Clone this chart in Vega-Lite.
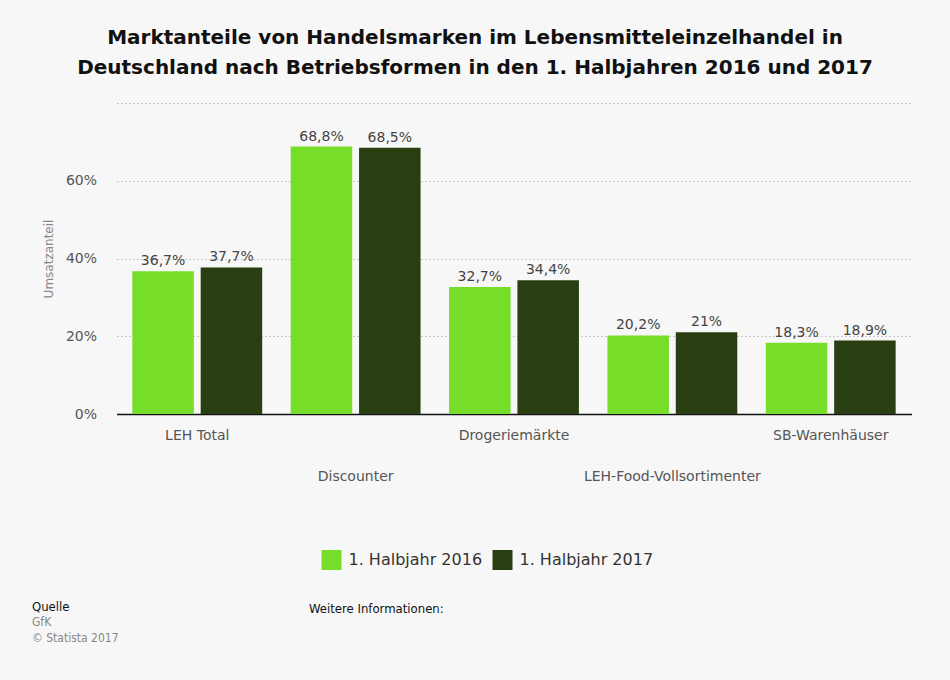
{
  "$schema": "https://vega.github.io/schema/vega-lite/v6.json",
  "background": "#f7f7f7",
  "padding": {"left": 32, "top": 28, "right": 20, "bottom": 30},
  "config": {
    "font": "DejaVu Sans",
    "view": {"stroke": null},
    "locale": {"number": {"decimal": ",", "thousands": ".", "grouping": [3], "currency": ["", " €"]}}
  },
  "title": {
    "text": ["Marktanteile von Handelsmarken im Lebensmitteleinzelhandel in", "Deutschland nach Betriebsformen in den 1. Halbjahren 2016 und 2017"],
    "fontSize": 20, "fontWeight": "bold", "color": "#111111", "lineHeight": 30, "anchor": "middle", "offset": 25, "dx": -39
  },
  "resolve": {"scale": {"color": "independent"}, "legend": {"color": "independent"}},
  "center": true,
  "spacing": 31,
  "vconcat": [
    {
      "width": 795,
      "height": 311,
      "data": {"values": [
        {"Betriebsform": "LEH Total", "Zeitraum": "1. Halbjahr 2016", "Anteil": 0.367},
        {"Betriebsform": "LEH Total", "Zeitraum": "1. Halbjahr 2017", "Anteil": 0.377},
        {"Betriebsform": "Discounter", "Zeitraum": "1. Halbjahr 2016", "Anteil": 0.688},
        {"Betriebsform": "Discounter", "Zeitraum": "1. Halbjahr 2017", "Anteil": 0.685},
        {"Betriebsform": "Drogeriemärkte", "Zeitraum": "1. Halbjahr 2016", "Anteil": 0.327},
        {"Betriebsform": "Drogeriemärkte", "Zeitraum": "1. Halbjahr 2017", "Anteil": 0.344},
        {"Betriebsform": "LEH-Food-Vollsortimenter", "Zeitraum": "1. Halbjahr 2016", "Anteil": 0.202},
        {"Betriebsform": "LEH-Food-Vollsortimenter", "Zeitraum": "1. Halbjahr 2017", "Anteil": 0.21},
        {"Betriebsform": "SB-Warenhäuser", "Zeitraum": "1. Halbjahr 2016", "Anteil": 0.183},
        {"Betriebsform": "SB-Warenhäuser", "Zeitraum": "1. Halbjahr 2017", "Anteil": 0.189}
      ]},
      "encoding": {
        "x": {
          "field": "Betriebsform", "type": "nominal", "sort": null,
          "scale": {"paddingInner": 0.18, "paddingOuter": 0.1},
          "axis": {
            "title": null, "labelAngle": 0, "labelFontSize": 14, "labelColor": "#555555",
            "labelPadding": {"condition": {"test": "indexof(['Discounter','LEH-Food-Vollsortimenter'], datum.value) >= 0", "value": 55}, "value": 14},
            "ticks": false, "domain": true, "domainColor": "#111111", "domainWidth": 1.5
          }
        },
        "xOffset": {"field": "Zeitraum", "type": "nominal", "scale": {"paddingInner": 0.1}},
        "y": {
          "field": "Anteil", "type": "quantitative",
          "scale": {"domain": [0, 0.8]},
          "axis": {
            "title": "Umsatzanteil", "titleFontSize": 12, "titleFontWeight": "normal", "titleColor": "#888888", "titlePadding": 10,
            "values": [0, 0.2, 0.4, 0.6, 0.8], "format": ".0%",
            "labelExpr": "datum.value > 0.7 ? '' : datum.label",
            "labelFontSize": 14, "labelColor": "#555555", "labelPadding": 20,
            "domain": false, "ticks": false,
            "grid": true, "gridColor": "#c8c8c8", "gridDash": [2, 2], "gridWidth": 1
          }
        }
      },
      "layer": [
        {
          "mark": {"type": "bar"},
          "encoding": {
            "color": {
              "field": "Zeitraum", "type": "nominal",
              "scale": {"domain": ["1. Halbjahr 2016", "1. Halbjahr 2017"], "range": ["#76dd29", "#293f11"]},
              "legend": {
                "orient": "none", "legendX": 205, "legendY": 447, "direction": "horizontal",
                "title": null, "symbolType": "square", "symbolSize": 400,
                "symbolStrokeWidth": 0, "symbolOpacity": 1,
                "labelFontSize": 16, "labelColor": "#333333", "labelOffset": 7, "columnPadding": 10
              }
            }
          }
        },
        {
          "mark": {"type": "text", "baseline": "alphabetic", "dy": -6, "fontSize": 14, "color": "#444444"},
          "encoding": {
            "text": {"field": "Anteil", "type": "quantitative", "format": ".1~%"}
          }
        }
      ]
    },
    {
      "spacing": 0,
      "hconcat": [
        {
          "width": 277, "height": 8,
          "data": {"values": [{}]},
          "mark": {"type": "text"},
          "encoding": {"text": {"value": ""}},
          "title": {
            "text": "Quelle", "subtitle": ["GfK", "© Statista 2017"],
            "anchor": "start", "fontSize": 13, "fontWeight": "normal", "color": "#111111",
            "font": "DejaVu Sans Condensed", "subtitleFont": "DejaVu Sans Condensed",
            "subtitleFontSize": 12, "subtitleColor": "#888888", "subtitlePadding": 3, "subtitleLineHeight": 16
          }
        },
        {
          "width": 687, "height": 8,
          "data": {"values": [{}]},
          "mark": {"type": "text"},
          "encoding": {"text": {"value": ""}},
          "title": {
            "text": "Weitere Informationen:", "anchor": "start", "fontSize": 13, "fontWeight": "normal",
            "color": "#111111", "font": "DejaVu Sans Condensed", "dy": -28
          }
        }
      ]
    }
  ]
}
